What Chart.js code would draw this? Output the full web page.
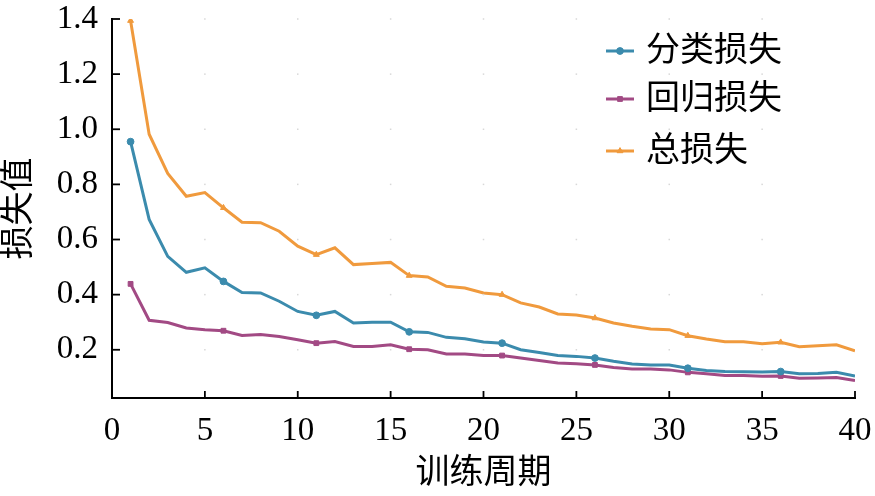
<!DOCTYPE html>
<html>
<head>
<meta charset="utf-8">
<script src="https://cdn.jsdelivr.net/npm/chart.js@4.4.0/dist/chart.umd.min.js"></script>
<style>
html,body{margin:0;padding:0;background:#fff;}
#wrap{width:875px;height:496px;position:relative;}
</style>
</head>
<body>
<div id="wrap"><canvas id="c"></canvas></div>
<script>
const epochs = [1,2,3,4,5,6,7,8,9,10,11,12,13,14,15,16,17,18,19,20,21,22,23,24,25,26,27,28,29,30,31,32,33,34,35,36,37,38,39,40];
const clsLoss = [0.955,0.673,0.539,0.481,0.497,0.448,0.408,0.406,0.376,0.339,0.325,0.339,0.297,0.300,0.300,0.265,0.263,0.245,0.240,0.228,0.224,0.200,0.190,0.179,0.176,0.170,0.158,0.148,0.145,0.145,0.133,0.125,0.121,0.120,0.119,0.121,0.113,0.114,0.118,0.105];
const regLoss = [0.439,0.307,0.299,0.279,0.273,0.269,0.252,0.255,0.248,0.236,0.224,0.230,0.212,0.212,0.218,0.202,0.200,0.185,0.185,0.179,0.179,0.170,0.161,0.152,0.149,0.145,0.136,0.130,0.130,0.127,0.118,0.113,0.107,0.107,0.104,0.105,0.097,0.098,0.099,0.088];
const totalLoss = [1.394,0.982,0.840,0.757,0.770,0.715,0.663,0.661,0.630,0.576,0.545,0.570,0.509,0.513,0.517,0.469,0.464,0.430,0.424,0.406,0.400,0.370,0.355,0.330,0.326,0.315,0.297,0.285,0.275,0.273,0.251,0.239,0.229,0.229,0.222,0.227,0.211,0.215,0.218,0.196];
const seriesNames = ['分类损失','回归损失','总损失'];
const xTicks = [0,5,10,15,20,25,30,35,40];
const yTicks = [0.2,0.4,0.6,0.8,1.0,1.2,1.4];

const colors = ['#3B8BAD','#A24A84','#F09A3D'];
const styles = ['circle','rect','triangle'];
const FONT = "'Liberation Serif', 'Noto Sans CJK SC', serif";

function mkData(arr){ return epochs.map((e,i)=>({x:e,y:arr[i]})); }
const markerR = ctx => (ctx.dataIndex % 5 === 0 ? 3.4 : 0);

const decor = {
  id:'decor',
  afterDraw(chart){
    const ctx = chart.ctx, xs = chart.scales.x, ys = chart.scales.y, a = chart.chartArea;
    ctx.save();
    ctx.fillStyle = '#d8d8d8';
    xTicks.forEach(t=>{ if(t===0||t===40) return; const px = xs.getPixelForValue(t);
      yTicks.forEach(v=>{ const py = ys.getPixelForValue(v); ctx.fillRect(px-0.75,py-0.75,1.5,1.5); });
    });
    ctx.strokeStyle = '#000'; ctx.lineWidth = 2;
    ctx.beginPath(); ctx.moveTo(a.left, a.top-1); ctx.lineTo(a.left, a.bottom); ctx.lineTo(a.right+1, a.bottom); ctx.stroke();
    ctx.lineWidth = 1.8;
    yTicks.forEach(v=>{ const py = ys.getPixelForValue(v); ctx.beginPath(); ctx.moveTo(a.left, py); ctx.lineTo(a.left+8, py); ctx.stroke(); });
    xTicks.forEach(t=>{ const px = xs.getPixelForValue(t); ctx.beginPath(); ctx.moveTo(px, a.bottom); ctx.lineTo(px, a.bottom-7); ctx.stroke(); });
    const x0 = 606, x1 = 634, rows = [51, 99, 151];
    chart.data.datasets.forEach((ds,i)=>{
      const y = rows[i];
      ctx.strokeStyle = ds.borderColor; ctx.lineWidth = 3;
      ctx.beginPath(); ctx.moveTo(x0,y); ctx.lineTo(x1,y); ctx.stroke();
      ctx.fillStyle = ds.backgroundColor; ctx.lineWidth = 1;
      Chart.helpers.drawPoint(ctx,{pointStyle:ds.pointStyle,radius:3.4,borderWidth:1},(x0+x1)/2,y);
      ctx.fillStyle = '#000'; ctx.font = "34px " + FONT; ctx.textBaseline = 'middle'; ctx.textAlign = 'left';
      ctx.fillText(ds.label, 646, y+1);
    });
    ctx.restore();
  }
};

const datasets = [clsLoss, regLoss, totalLoss].map((arr,i)=>({
  label: seriesNames[i],
  data: mkData(arr),
  borderColor: colors[i],
  backgroundColor: colors[i],
  pointStyle: styles[i],
  pointRadius: markerR,
  pointHoverRadius: markerR,
  pointBorderWidth: 1,
  borderWidth: 3,
  tension: 0,
  fill: false
}));

new Chart(document.getElementById('c'), {
  type: 'line',
  data: { datasets },
  options: {
    responsive: true,
    maintainAspectRatio: false,
    animation: false,
    events: [],
    layout: { padding: { top: 19, right: 20, left: 0, bottom: 0 } },
    plugins: { legend: { display: false }, tooltip: { enabled: false } },
    scales: {
      x: {
        type: 'linear', min: 0, max: 40,
        afterBuildTicks: s => { s.ticks = xTicks.map(v=>({value:v})); },
        afterFit: s => { s.height = 98; s.paddingLeft = 0; s.paddingRight = 0; },
        grid: { display: false, drawTicks: false },
        border: { display: false },
        ticks: { color: '#000', font: { family: FONT, size: 33 }, padding: 14, maxRotation: 0 },
        title: { display: true, text: '训练周期', color: '#000', font: { family: FONT, size: 34 }, padding: { top: 0, bottom: 2 } }
      },
      y: {
        type: 'linear', min: 0.025, max: 1.4,
        afterBuildTicks: s => { s.ticks = yTicks.map(v=>({value:v})); },
        afterFit: s => { s.width = 112; s.paddingTop = 0; s.paddingBottom = 0; },
        grid: { display: false, drawTicks: false },
        border: { display: false },
        ticks: { color: '#000', font: { family: FONT, size: 33 }, padding: 14, callback: v => v.toFixed(1) },
        title: { display: true, text: '损失值', color: '#000', font: { family: FONT, size: 34 }, padding: { top: 0, bottom: 0 } }
      }
    }
  },
  plugins: [decor]
});
</script>
</body>
</html>
